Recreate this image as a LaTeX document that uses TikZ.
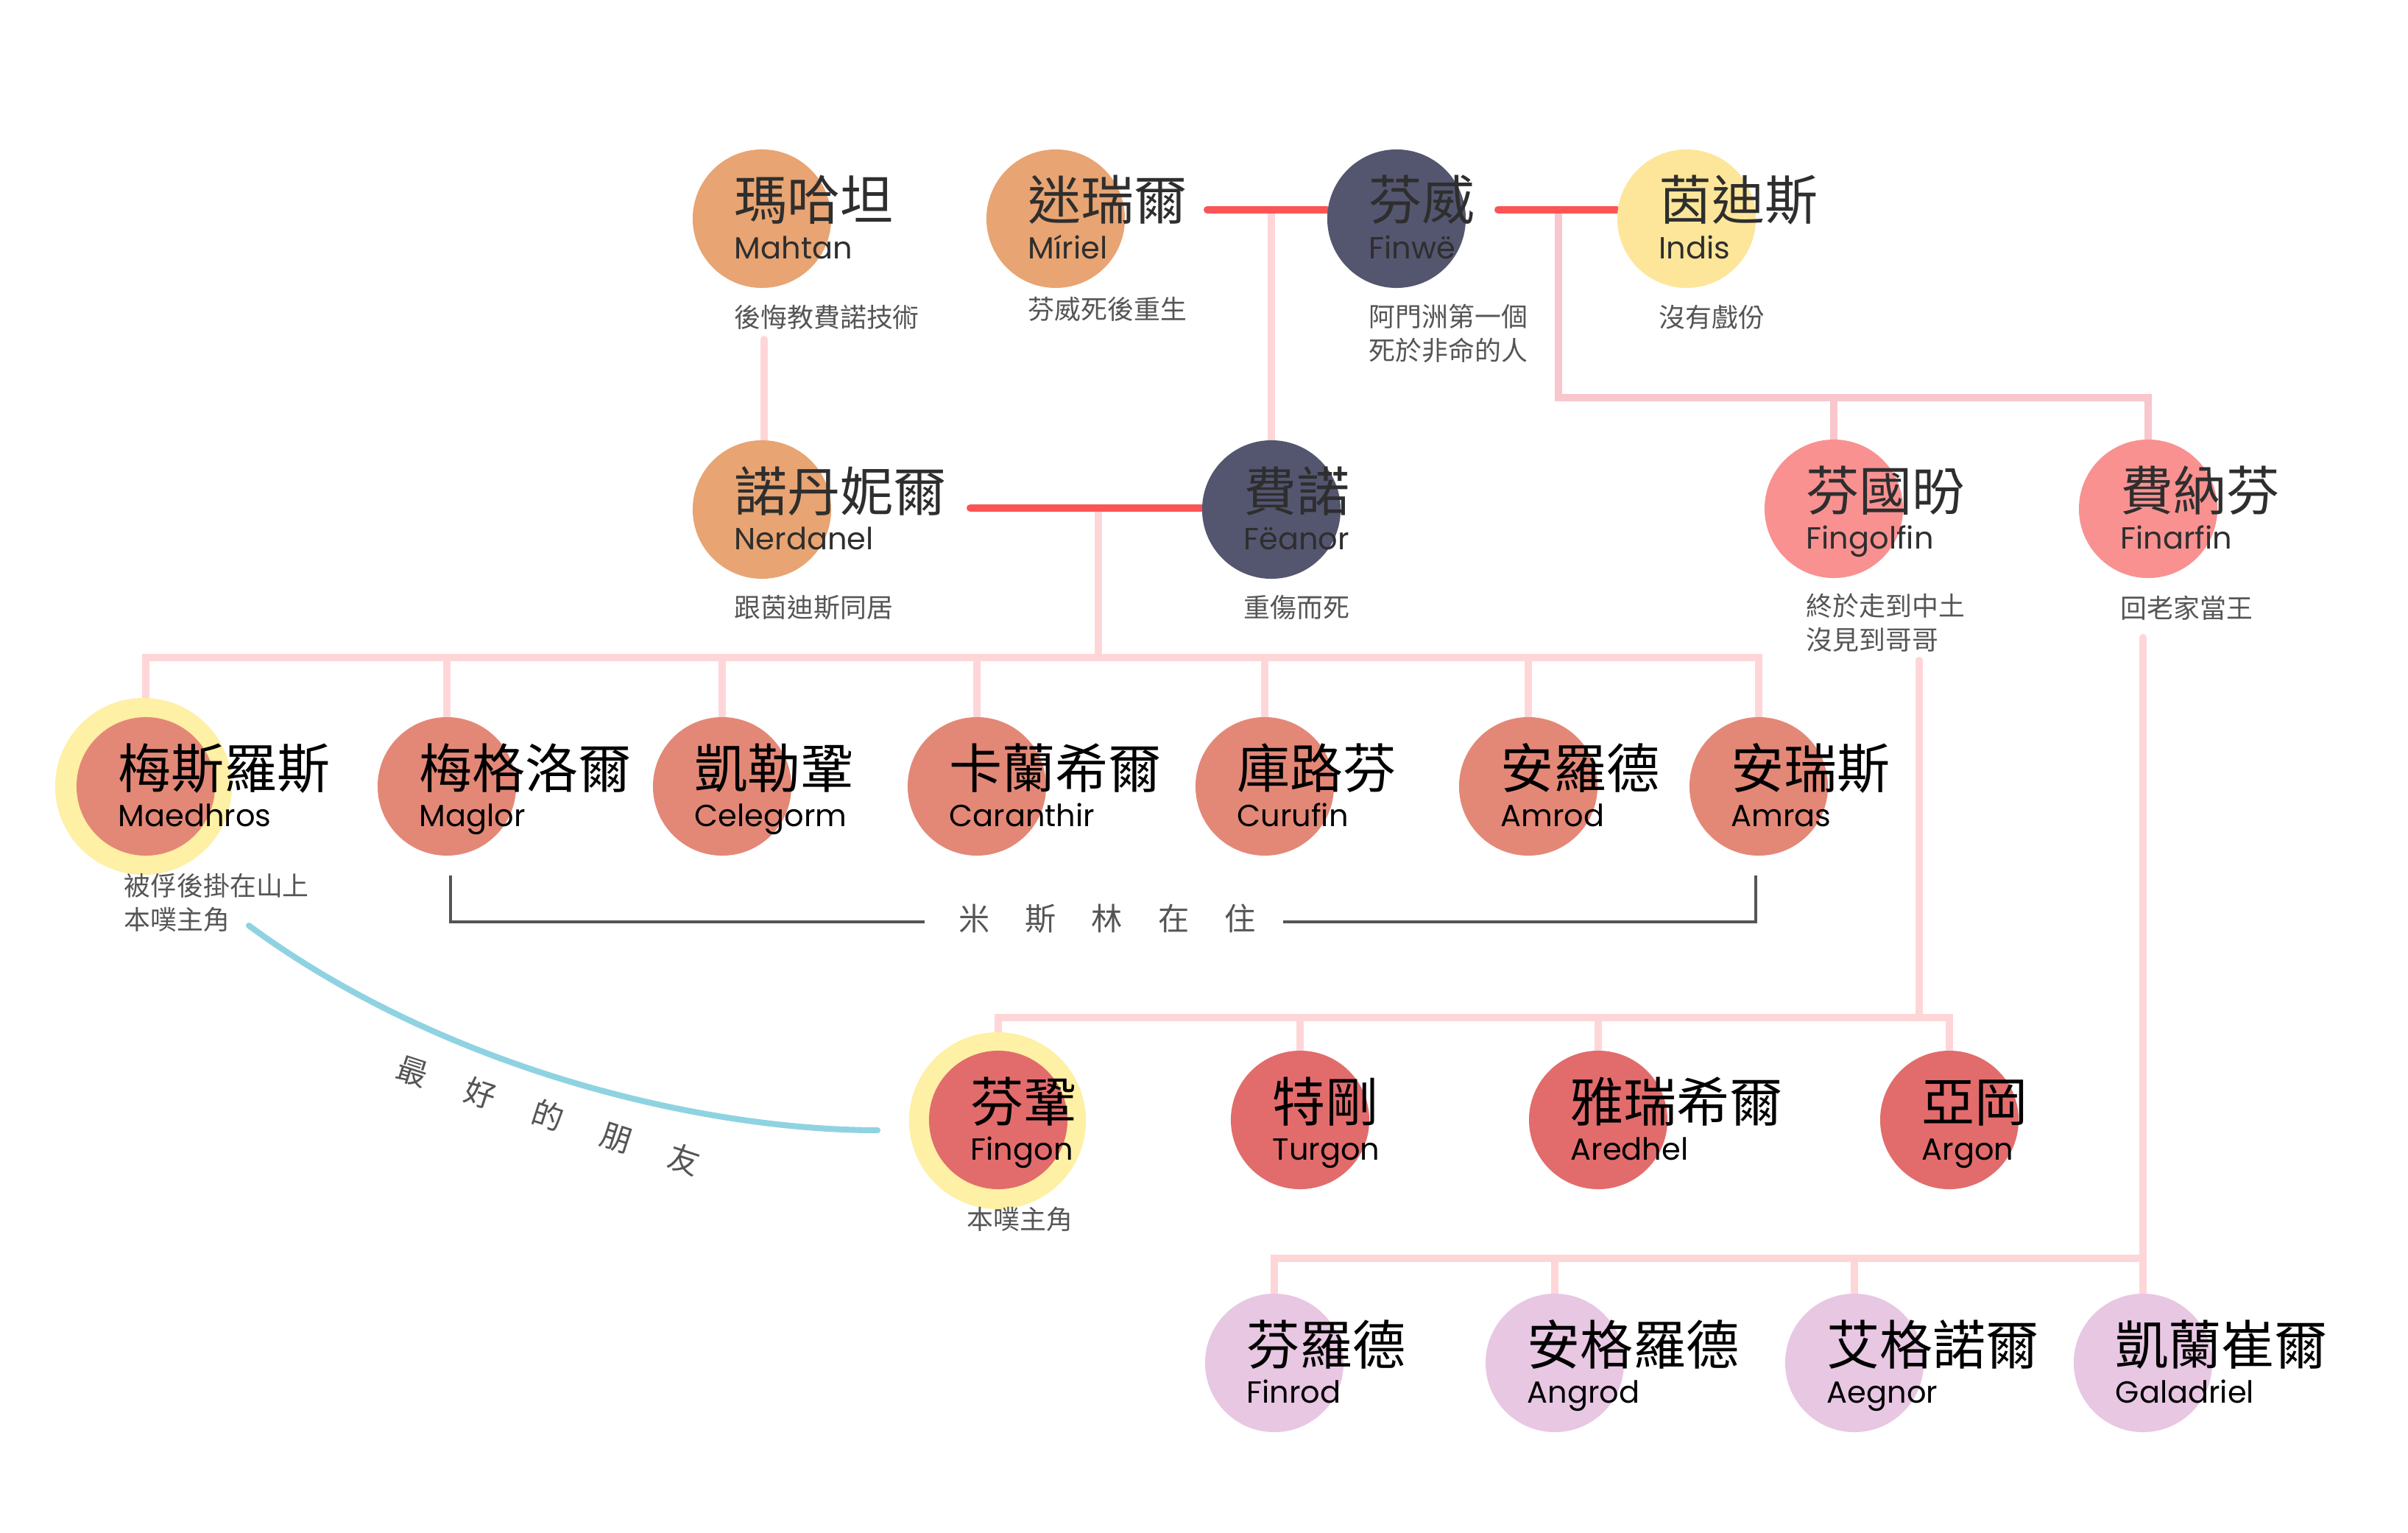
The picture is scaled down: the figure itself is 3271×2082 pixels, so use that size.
\documentclass[tikz,border=0pt]{standalone}
\usepackage{fontspec}
\setmainfont{Poppins}
\newfontfamily\cjk{Noto Sans CJK TC}
\usetikzlibrary{calc,backgrounds}

\definecolor{peach}{HTML}{E8A472}
\definecolor{slate}{HTML}{545670}
\definecolor{butter}{HTML}{FDE69A}
\definecolor{rose}{HTML}{F99191}
\definecolor{salmon}{HTML}{E38877}
\definecolor{coral}{HTML}{E26C6C}
\definecolor{lilac}{HTML}{E8C7E3}
\definecolor{halo}{HTML}{FEF0A4}
\definecolor{wedred}{HTML}{FB5455}
\definecolor{kinpink}{HTML}{FFD6D8}
\definecolor{kinpinkb}{HTML}{F8C6CC}
\definecolor{friendblue}{HTML}{8FD3E2}
\definecolor{notegray}{HTML}{555555}
\definecolor{inkdark}{HTML}{2E2E2E}

\begin{document}
\begin{tikzpicture}[x=0.01cm, y=-0.01cm,
    person/.style={circle, fill=#1, minimum size=1.88cm, inner sep=0pt},
    glow/.style={circle, fill=halo, minimum size=2.4cm, inner sep=0pt},
    zh/.style={anchor=base west, inner sep=0pt, font=\cjk\fontsize{20.5pt}{20.5pt}\selectfont},
    en/.style={anchor=base west, inner sep=0pt, font=\fontsize{11.8pt}{11.8pt}\selectfont},
    note/.style={anchor=base west, inner sep=0pt, align=left, text=notegray, font=\cjk\fontsize{10.2pt}{12.8pt}\selectfont},
    tag/.style={inner sep=0pt, text=notegray, font=\cjk\fontsize{12pt}{12pt}\selectfont},
    wed/.style={wedred, line width=2.85pt, line cap=round},
    kin/.style={kinpink, line width=2.85pt, line cap=round},
    kinb/.style={kinpinkb, line width=2.85pt, line cap=round},
    brk/.style={notegray, line width=1.2pt},
    friend/.style={friendblue, line width=2.3pt, line cap=round}]

\useasboundingbox (0,0) rectangle (3271,2082);

\node[glow] (maedhros-glow) at (195,1068) {};
\node[glow] (fingon-glow) at (1355,1522) {};

\foreach \n/\px/\py/\fc/\tc/\zhn/\enn in {
    mahtan/1035/297/peach/inkdark/瑪哈坦/Mahtan,
    miriel/1434/297/peach/inkdark/迷瑞爾/Míriel,
    finwe/1897/297/slate/inkdark/芬威/Finwë,
    indis/2291/297/butter/inkdark/茵迪斯/Indis,
    nerdanel/1035/692/peach/inkdark/諾丹妮爾/Nerdanel,
    feanor/1727/692/slate/inkdark/費諾/Fëanor,
    fingolfin/2491/691/rose/inkdark/芬國昐/Fingolfin,
    finarfin/2918/691/rose/inkdark/費納芬/Finarfin,
    maedhros/198/1068/salmon/black/梅斯羅斯/Maedhros,
    maglor/607/1068/salmon/black/梅格洛爾/Maglor,
    celegorm/981/1068/salmon/black/凱勒鞏/Celegorm,
    caranthir/1327/1068/salmon/black/卡蘭希爾/Caranthir,
    curufin/1718/1068/salmon/black/庫路芬/Curufin,
    amrod/2076/1068/salmon/black/安羅德/Amrod,
    amras/2389/1068/salmon/black/安瑞斯/Amras,
    fingon/1356/1521/coral/black/芬鞏/Fingon,
    turgon/1766/1521/coral/black/特剛/Turgon,
    aredhel/2171/1521/coral/black/雅瑞希爾/Aredhel,
    argon/2648/1521/coral/black/亞岡/Argon,
    finrod/1731/1851/lilac/black/芬羅德/Finrod,
    angrod/2112/1851/lilac/black/安格羅德/Angrod,
    aegnor/2519/1851/lilac/black/艾格諾爾/Aegnor,
    galadriel/2911/1851/lilac/black/凱蘭崔爾/Galadriel} {
  \node[person=\fc] (\n) at (\px,\py) {};
  \node[zh, text=\tc] (\n-zh) at (\px-38,\py+2) {\zhn};
  \node[en, text=\tc] (\n-en) at (\px-38,\py+54) {\enn};
}

\node[note] (mahtan-note) at (997,445) {後悔教費諾技術};
\node[note] (miriel-note) at (1396,433) {芬威死後重生};
\node[note] (finwe-note) at (1859,489) {阿門洲第一個\\死於非命的人};
\node[note] (indis-note) at (2253,444) {沒有戲份};
\node[note] (nerdanel-note) at (997,838) {跟茵迪斯同居};
\node[note] (feanor-note) at (1689,838) {重傷而死};
\node[note] (fingolfin-note) at (2453,882) {終於走到中土\\沒見到哥哥};
\node[note] (finarfin-note) at (2880,839) {回老家當王};
\node[note] (maedhros-note) at (168,1262) {被俘後掛在山上\\本噗主角};
\node[note] (fingon-note) at (1313,1669) {本噗主角};

% Mithrim
\node[tag] (mithrim) at (1504,1248) {米\hspace{0.48cm}斯\hspace{0.48cm}林\hspace{0.48cm}在\hspace{0.48cm}住};
\draw[brk] ($(maglor.south)+(5,26)$) |- ($(mithrim.west)+(-46,4)$);
\draw[brk] ($(mithrim.east)+(37,4)$) -| ($(amras.south)+(-4,26)$);

% best friends
\coordinate (bf1) at (338,1257);
\coordinate (bf2) at (1192,1535);
\draw[friend] (bf1) .. controls (600,1450) and (950,1535) .. (bf2);
\node[tag, rotate=-18] (bestfriend) at (745,1515) {最\hspace{0.55cm}好\hspace{0.55cm}的\hspace{0.55cm}朋\hspace{0.55cm}友};

\begin{scope}[on background layer]
  \fill[white] (0,0) rectangle (3271,2082);

  \coordinate (mf) at (1640,285);
  \coordinate (fi) at (2035,285);
  \coordinate (nf) at (1318,690);
  \coordinate (fibar) at (2117,540);
  \coordinate (mn) at (1038,461);
  \coordinate (nfdrop) at (1492,690);
  \coordinate (sonsbar) at (1492,893);
  \coordinate (fgtop) at (2607,897);
  \coordinate (fgbar) at (2607,1382);
  \coordinate (fatop) at (2911,866);
  \coordinate (fabar) at (2911,1709);

  \draw[kin] (feanor.north |- mf) -- (feanor.north);
  \draw[kin] (mn) -- (mn |- nerdanel.north);
  \draw[kinb] (fibar |- fi) -- (fibar) -| (finarfin.north);
  \draw[kinb] (fibar -| fingolfin.north) -- (fingolfin.north);

  \draw[kin] (nfdrop) -- (sonsbar);
  \draw[kin] (maedhros.north) -- (maedhros.north |- sonsbar) -- (amras.north |- sonsbar) -- (amras.north);
  \foreach \n in {maglor,celegorm,caranthir,curufin,amrod}
    \draw[kin] (\n.north |- sonsbar) -- (\n.north);

  \draw[kin] (fgtop) -- (fgbar);
  \draw[kin] (fingon.north) -- (fingon.north |- fgbar) -- (argon.north |- fgbar) -- (argon.north);
  \foreach \n in {turgon,aredhel}
    \draw[kin] (\n.north |- fgbar) -- (\n.north);

  \draw[kin] (fatop) -- (galadriel.north);
  \draw[kin] (finrod.north) -- (finrod.north |- fabar) -- (fabar);
  \foreach \n in {angrod,aegnor}
    \draw[kin] (\n.north |- fabar) -- (\n.north);

  \draw[wed] (mf) -- (mf -| finwe.west);
  \draw[wed] (fi) -- (fi -| indis.west);
  \draw[wed] (nf) -- (nf -| feanor.west);
\end{scope}
\end{tikzpicture}
\end{document}
